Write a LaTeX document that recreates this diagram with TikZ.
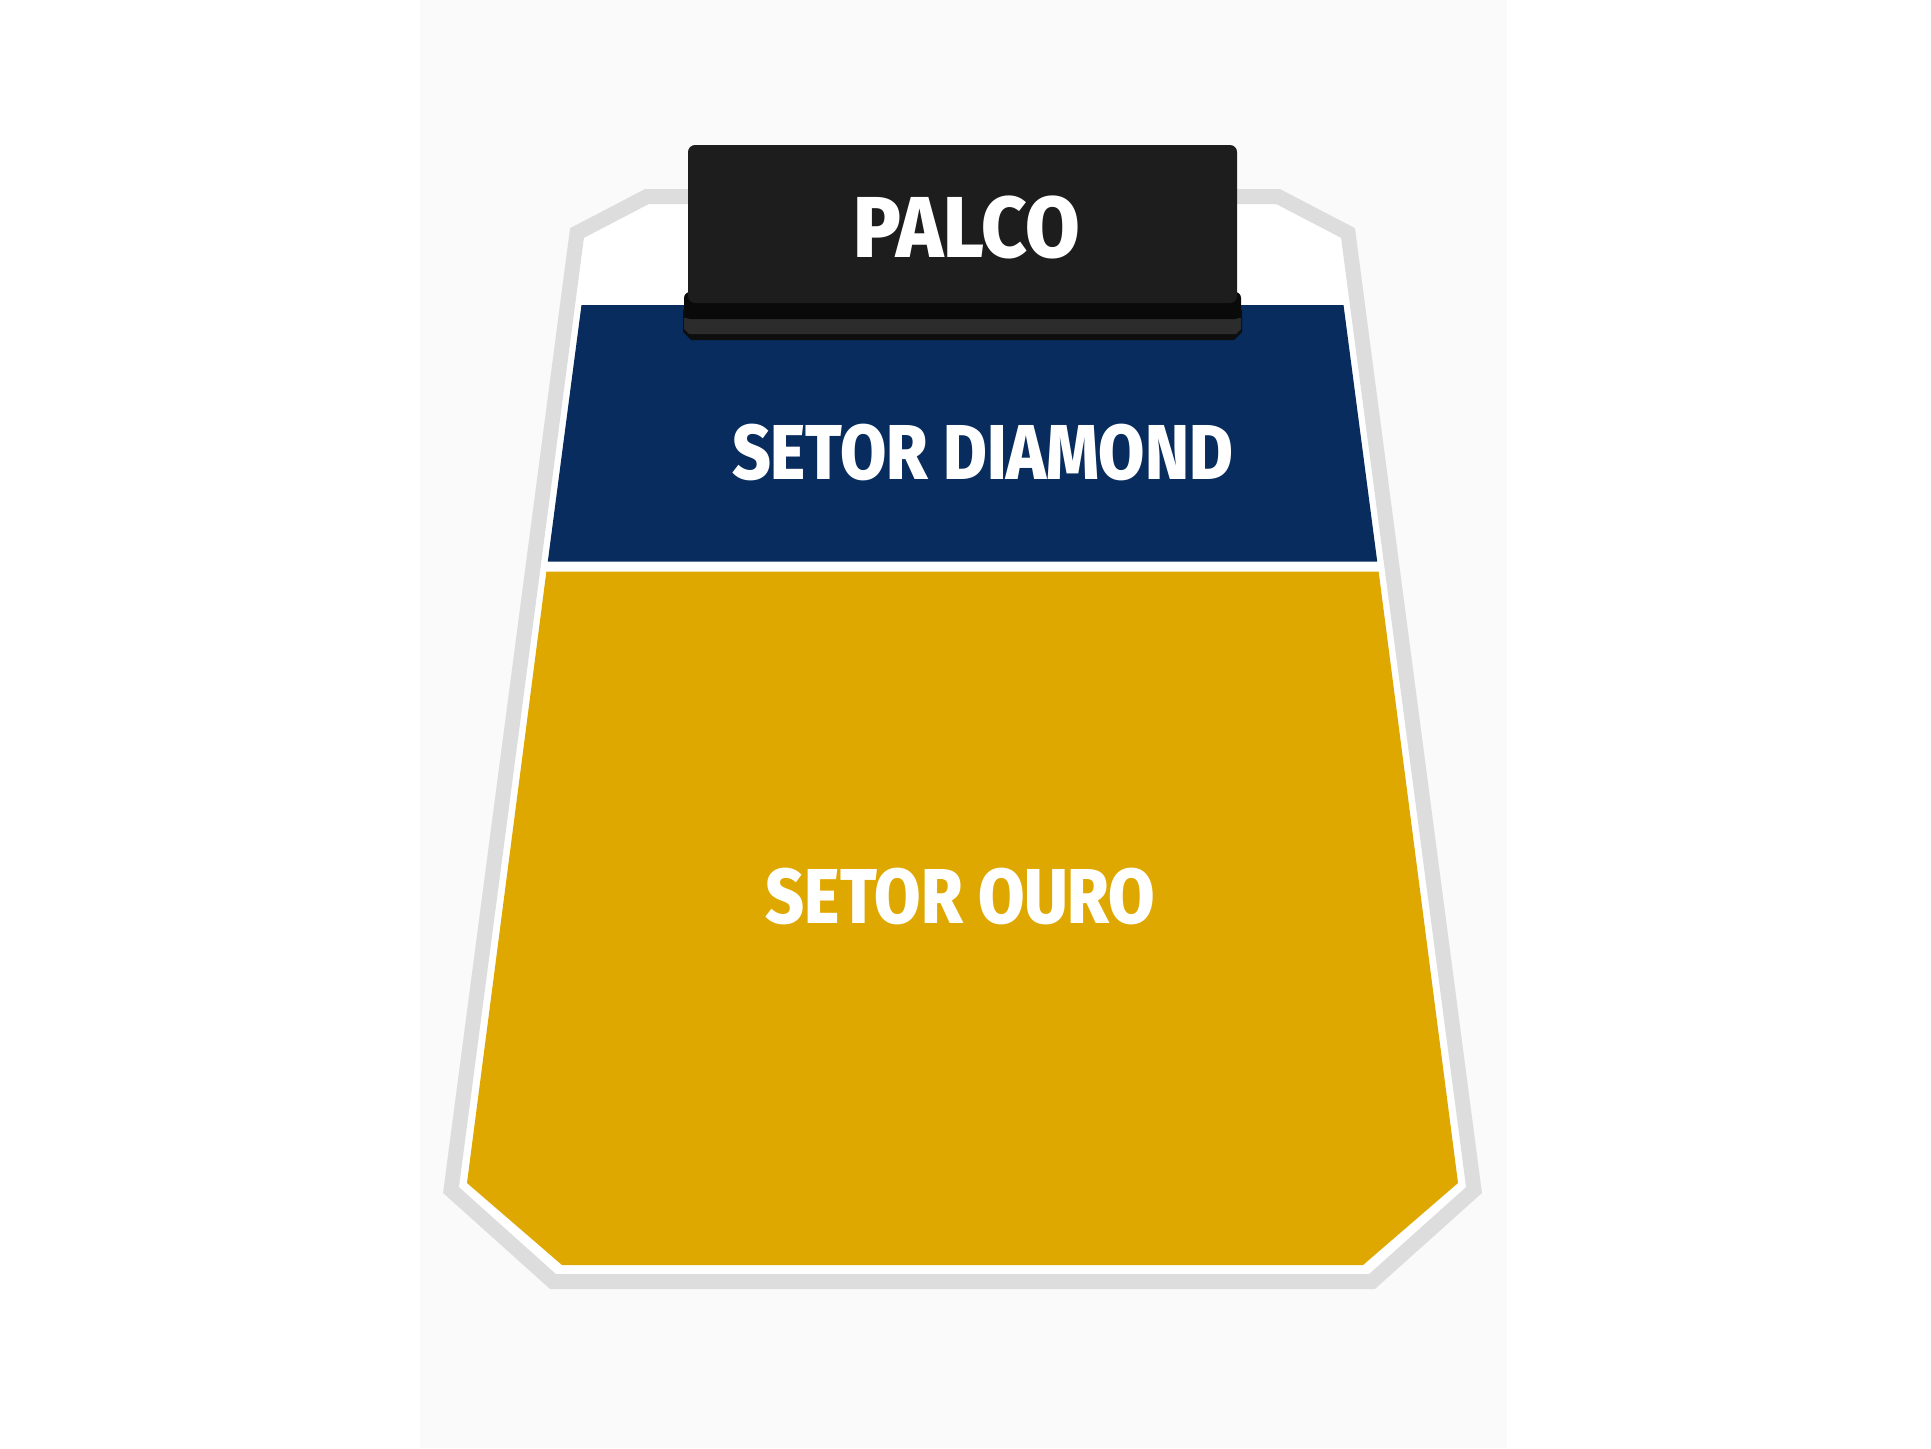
\documentclass[tikz,border=0pt]{standalone}
\usepackage{fontspec}
\usepackage{graphicx}
\newfontfamily\labelfont{Fira Sans}[UprightFont={* ExtraBold}]
\definecolor{panelbg}{HTML}{FAFAFA}
\definecolor{bordergray}{HTML}{DDDDDD}
\definecolor{navy}{HTML}{082C5E}
\definecolor{gold}{HTML}{DFA800}
\definecolor{stagetop}{HTML}{1D1D1D}
\definecolor{stagedark}{HTML}{0A0A0A}
\definecolor{stageband}{HTML}{2C2C2C}
\definecolor{stageedge}{HTML}{0E0E0E}
\begin{document}
\begin{tikzpicture}[x=0.01cm,y=-0.01cm,
  border/.style={draw=bordergray, line width=0.15cm, line join=miter},
  labeltext/.style={text=white, inner sep=0pt, anchor=center, font=\labelfont}]
\fill[white] (0,0) rectangle (1931,1448);
\fill[panelbg] (420,0) rectangle (1507,1448);
\useasboundingbox (0,0) rectangle (1931,1448);
% outer border
\fill[white] (647,196.5) -- (577,233) -- (451,1190) -- (553,1281.5)
  -- (1372,1281.5) -- (1474,1190) -- (1348,233) -- (1278,196.5) -- cycle;
\draw[border] (695,196.5) -- (647,196.5) -- (577,233) -- (451,1190) -- (553,1281.5)
  -- (1372,1281.5) -- (1474,1190) -- (1348,233) -- (1278,196.5) -- (1230,196.5);
% sectors
\fill[navy] (581.5,305) -- (1343.5,305) -- (1377.2,561.5) -- (547.8,561.5) -- cycle;
\fill[gold] (546.4,571.5) -- (1378.6,571.5) -- (1458,1183) -- (1363,1265)
  -- (562,1265) -- (467,1183) -- cycle;
% stage
\fill[stageedge] (683,310) -- (1242,310) -- (1242,332) -- (1234,340) -- (691,340) -- (683,332) -- cycle;
\fill[stageband] (684,318) -- (1241,318) -- (1241,329) -- (1236,334) -- (689,334) -- (684,329) -- cycle;
\fill[stagedark, rounded corners=1.7pt] (684,292) rectangle (1241,319);
\fill[stagetop, rounded corners=2pt] (688,145) rectangle (1237,303);
% labels
\node[labeltext] (palco) at (966.7,227.5) {\resizebox{2.266cm}{0.616cm}{PALCO}};
\node[labeltext] (diamond) at (982.5,452.5) {\resizebox{5.006cm}{0.554cm}{SETOR DIAMOND}};
\node[labeltext] (ouro) at (960.5,896) {\resizebox{3.89cm}{0.554cm}{SETOR OURO}};
\end{tikzpicture}
\end{document}
